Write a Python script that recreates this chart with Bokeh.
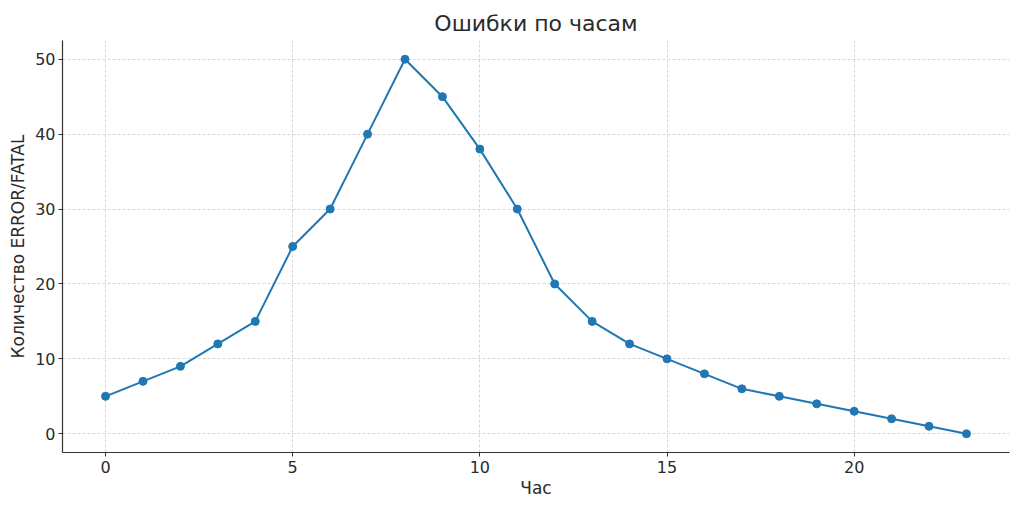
from bokeh.plotting import figure
from bokeh.embed import file_html
from bokeh.resources import INLINE
from bokeh.models import Range1d, FixedTicker

hours = list(range(24))
errors = [5, 7, 9, 12, 15, 25, 30, 40, 50, 45, 38, 30, 20, 15, 12, 10, 8, 6, 5, 4, 3, 2, 1, 0]
title = "Ошибки по часам"
x_label = "Час"
y_label = "Количество ERROR/FATAL"
x_ticks = [0, 5, 10, 15, 20]
y_ticks = [0, 10, 20, 30, 40, 50]

FONT = "DejaVu Sans"
TXT = "#2b2b2b"

p = figure(width=1016, height=504, output_backend="svg", toolbar_location=None,
           x_range=Range1d(-1.15, 24.15), y_range=Range1d(-2.5, 52.5),
           min_border_left=62, min_border_right=7, min_border_top=40, min_border_bottom=52)
p.outline_line_color = None
p.background_fill_color = "white"
p.border_fill_color = "white"

p.title.text = title
p.title.text_font = FONT
p.title.text_font_size = "22px"
p.title.text_font_style = "normal"
p.title.text_color = TXT
p.title.align = "center"

for ax, ticks in ((p.xaxis, x_ticks), (p.yaxis, y_ticks)):
    ax.ticker = FixedTicker(ticks=ticks)
    ax.minor_tick_line_color = None
    ax.major_tick_out = 4
    ax.major_tick_in = 0
    ax.axis_line_color = "#333333"
    ax.axis_line_width = 1.2
    ax.major_tick_line_color = "#333333"
    ax.major_label_text_font = FONT
    ax.major_label_text_font_size = "16px"
    ax.major_label_text_color = TXT
    ax.axis_label_text_font = FONT
    ax.axis_label_text_font_size = "17px"
    ax.axis_label_text_font_style = "normal"
    ax.axis_label_text_color = TXT

p.xaxis.axis_label = x_label
p.yaxis.axis_label = y_label
p.xaxis.major_label_standoff = 4
p.yaxis.major_label_standoff = 3
p.xaxis.axis_label_standoff = 2
p.yaxis.axis_label_standoff = 4

for g in (p.xgrid, p.ygrid):
    g.grid_line_color = "#cccccc"
    g.grid_line_dash = "3 2"
    g.grid_line_width = 0.8

p.line(hours, errors, line_color="#1f77b4", line_width=2)
p.scatter(hours, errors, size=8, fill_color="#1f77b4", line_color="#1f77b4")

open("out.html", "w").write(file_html(p, INLINE))
